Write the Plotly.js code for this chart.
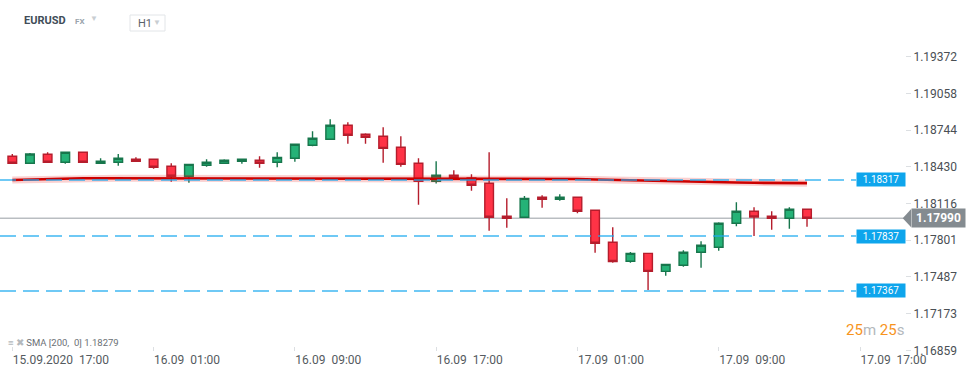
<!DOCTYPE html>
<html>
<head>
<meta charset="utf-8">
<script src="https://cdn.plot.ly/plotly-3.0.1.min.js"></script>
<style>
html,body{margin:0;padding:0;background:#fff;}
#chart{width:974px;height:375px;}
</style>
</head>
<body>
<div id="chart"></div>
<script>
// ---- data ----
const times = [
  '2020-09-15 17:00','2020-09-15 18:00','2020-09-15 19:00','2020-09-15 20:00','2020-09-15 21:00',
  '2020-09-15 22:00','2020-09-15 23:00','2020-09-16 00:00','2020-09-16 01:00','2020-09-16 02:00',
  '2020-09-16 03:00','2020-09-16 04:00','2020-09-16 05:00','2020-09-16 06:00','2020-09-16 07:00',
  '2020-09-16 08:00','2020-09-16 09:00','2020-09-16 10:00','2020-09-16 11:00','2020-09-16 12:00',
  '2020-09-16 13:00','2020-09-16 14:00','2020-09-16 15:00','2020-09-16 16:00','2020-09-16 17:00',
  '2020-09-16 18:00','2020-09-16 19:00','2020-09-16 20:00','2020-09-16 21:00','2020-09-16 22:00',
  '2020-09-16 23:00','2020-09-17 00:00','2020-09-17 01:00','2020-09-17 02:00','2020-09-17 03:00',
  '2020-09-17 04:00','2020-09-17 05:00','2020-09-17 06:00','2020-09-17 07:00','2020-09-17 08:00',
  '2020-09-17 09:00','2020-09-17 10:00','2020-09-17 11:00','2020-09-17 12:00','2020-09-17 13:00',
  '2020-09-17 14:00'
];
const openP = [
  1.18520,1.18460,1.18537,1.18469,1.18554,1.18460,1.18469,1.18494,1.18494,1.18434,
  1.18349,1.18443,1.18460,1.18477,1.18486,1.18469,1.18503,1.18614,1.18666,1.18785,
  1.18708,1.18691,1.18597,1.18460,1.18306,1.18357,1.18334,1.18289,1.18006,1.17998,
  1.18169,1.18152,1.18169,1.18058,1.17784,1.17621,1.17689,1.17535,1.17587,1.17698,
  1.17741,1.17946,1.18049,1.18006,1.17989,1.18066
];
const highP = [
  1.18540,1.18548,1.18554,1.18554,1.18554,1.18503,1.18540,1.18511,1.18494,1.18460,
  1.18451,1.18494,1.18494,1.18494,1.18520,1.18554,1.18623,1.18734,1.18837,1.18811,
  1.18717,1.18768,1.18691,1.18503,1.18477,1.18401,1.18366,1.18554,1.18160,1.18180,
  1.18186,1.18195,1.18169,1.18058,1.17912,1.17701,1.17689,1.17595,1.17715,1.17792,
  1.17955,1.18126,1.18083,1.18049,1.18083,1.18066
];
const lowP = [
  1.18460,1.18460,1.18469,1.18457,1.18469,1.18460,1.18439,1.18477,1.18414,1.18302,
  1.18294,1.18431,1.18460,1.18457,1.18422,1.18426,1.18474,1.18606,1.18666,1.18628,
  1.18628,1.18465,1.18431,1.18106,1.18287,1.18323,1.18225,1.17883,1.17909,1.17998,
  1.18080,1.18140,1.18032,1.17695,1.17609,1.17609,1.17375,1.17498,1.17575,1.17566,
  1.17712,1.17921,1.17838,1.17892,1.17900,1.17917
];
const closeP = [
  1.18460,1.18540,1.18469,1.18554,1.18469,1.18477,1.18503,1.18477,1.18426,1.18349,
  1.18451,1.18469,1.18486,1.18494,1.18460,1.18511,1.18623,1.18674,1.18785,1.18700,
  1.18683,1.18588,1.18451,1.18306,1.18357,1.18338,1.18272,1.17998,1.17989,1.18160,
  1.18152,1.18169,1.18049,1.17775,1.17619,1.17689,1.17535,1.17595,1.17698,1.17758,
  1.17946,1.18049,1.18000,1.17989,1.18066,1.17990
];
const sma200 = [
  1.18317,1.18321,1.18327,1.18332,1.18332,1.18332,1.18332,1.18332,1.18332,1.18332,
  1.18332,1.18332,1.18332,1.18332,1.18332,1.18332,1.18332,1.18332,1.18332,1.18332,
  1.18332,1.18332,1.18332,1.18332,1.18332,1.18332,1.18332,1.18332,1.18331,1.18330,
  1.18330,1.18329,1.18326,1.18321,1.18317,1.18314,1.18310,1.18307,1.18303,1.18300,
  1.18297,1.18295,1.18293,1.18291,1.18291,1.18290
];
const levels = [1.18317, 1.17837, 1.17367];
const lastPrice = 1.17990;
const smaLabel = 'SMA [200,\u00a0 0] 1.18279';
const yTicks = [1.16859,1.17173,1.17487,1.17801,1.18116,1.18430,1.18744,1.19058,1.19372];
const xTickVals = ['2020-09-15 17:00','2020-09-16 01:00','2020-09-16 09:00','2020-09-16 17:00',
                   '2020-09-17 01:00','2020-09-17 09:00','2020-09-17 17:00'];
const xTickText = ['15.09.2020\u00a0\u00a017:00','16.09\u00a0\u00a001:00','16.09\u00a0\u00a009:00',
                   '16.09\u00a0\u00a017:00','17.09\u00a0\u00a001:00','17.09\u00a0\u00a009:00',
                   '17.09\u00a0\u00a017:00'];

// ---- traces ----
const FONT = 'Roboto, "Open Sans", Arial, sans-serif';
const traces = [
  { type:'scatter', mode:'lines', x:times, y:sma200, hoverinfo:'skip',
    line:{color:'rgba(230,40,40,0.22)', width:7}, showlegend:false },
  { type:'scatter', mode:'lines', x:times, y:sma200, hoverinfo:'skip',
    line:{color:'#cc0000', width:2.6}, showlegend:false },
  { type:'candlestick', x:times, open:openP, high:highP, low:lowP, close:closeP,
    increasing:{fillcolor:'#25b277', line:{color:'#17764c', width:1.4}},
    decreasing:{fillcolor:'#ff3346', line:{color:'#b51d2c', width:1.4}},
    whiskerwidth:0, showlegend:false, hoverinfo:'skip' }
];

const shapes = [];
levels.forEach(v => {
  shapes.push({type:'line', xref:'paper', yref:'y', x0:0, x1:0.946, y0:v, y1:v,
    line:{color:'rgba(30,170,240,0.85)', width:1.5, dash:'16px,7px'}, layer:'above'});
});
shapes.push({type:'line', xref:'paper', yref:'y', x0:0, x1:1, y0:lastPrice, y1:lastPrice,
  line:{color:'#979ea3', width:1}, layer:'below'});
// arrow of the price tag
shapes.push({type:'path', xref:'paper', yref:'y', layer:'above',
  path:'M 0.9975,' + lastPrice + ' L 1.0068,' + (lastPrice+0.00078) + ' L 1.0068,' + (lastPrice-0.00078) + ' Z',
  fillcolor:'#848b90', line:{width:0}});
// H1 box
shapes.push({type:'rect', xref:'paper', yref:'paper', x0:130/905, x1:165/905,
  y0:1+(30-31)/321, y1:1+(30-15)/321, line:{color:'#e2e5e8', width:1}, fillcolor:'rgba(0,0,0,0)'});

const annotations = [];
levels.forEach(v => {
  annotations.push({xref:'paper', yref:'y', x:1.0015, y:v, xanchor:'right', yanchor:'middle',
    text:v.toFixed(5), showarrow:false, bgcolor:'#0ea5ec', borderpad:1, width:46, height:11,
    font:{family:FONT, size:10, color:'#ffffff'}});
});
annotations.push({xref:'paper', yref:'y', x:1.0066, y:lastPrice, xanchor:'left', yanchor:'middle',
  text:'<b>' + lastPrice.toFixed(5) + '</b>', showarrow:false, bgcolor:'#848b90', borderpad:2,
  width:49, height:14, font:{family:FONT, size:12, color:'#ffffff'}});
// header
annotations.push({xref:'paper', yref:'paper', x:22/905, y:1+(30-20)/321, xanchor:'left', yanchor:'middle',
  text:'<b>EURUSD</b>', showarrow:false, font:{family:FONT, size:11, color:'#414d58'}});
annotations.push({xref:'paper', yref:'paper', x:73/905, y:1+(30-21)/321, xanchor:'left', yanchor:'middle',
  text:'<b>FX</b>', showarrow:false, font:{family:FONT, size:8, color:'#9aa4ac'}});
annotations.push({xref:'paper', yref:'paper', x:88/905, y:1+(30-18)/321, xanchor:'left', yanchor:'middle',
  text:'\u25BC', showarrow:false, font:{family:FONT, size:8, color:'#c9ced2'}});
annotations.push({xref:'paper', yref:'paper', x:136/905, y:1+(30-23)/321, xanchor:'left', yanchor:'middle',
  text:'H1', showarrow:false, font:{family:FONT, size:11, color:'#5a6168'}});
annotations.push({xref:'paper', yref:'paper', x:151/905, y:1+(30-22)/321, xanchor:'left', yanchor:'middle',
  text:'\u25BC', showarrow:false, font:{family:FONT, size:8, color:'#c9ced2'}});
// SMA legend
annotations.push({xref:'paper', yref:'paper', x:6/905, y:1-(342-30)/321, xanchor:'left', yanchor:'middle',
  text:'<span style="color:#b4b9bd">\u2261</span> <span style="color:#b4b9bd">\u2716</span> ' + smaLabel,
  showarrow:false, font:{family:FONT, size:9.5, color:'#6b7075'}});
// countdown
annotations.push({xref:'paper', yref:'paper', x:906/905, y:1-(330-30)/321, xanchor:'right', yanchor:'middle',
  text:'<span style="color:#f7941d">25</span>m <span style="color:#f7941d">25</span>s',
  showarrow:false, font:{family:FONT, size:15, color:'#b3b8bc'}});

const layout = {
  width:974, height:375,
  margin:{l:0, r:69, t:30, b:24, pad:0},
  paper_bgcolor:'#ffffff', plot_bgcolor:'#ffffff',
  showlegend:false, hovermode:false,
  font:{family:FONT},
  xaxis:{type:'date', range:['2020-09-15 16:18:12','2020-09-17 19:32:54'],
    rangeslider:{visible:false}, showgrid:false, zeroline:false, showline:false,
    tickmode:'array', tickvals:xTickVals, ticktext:xTickText,
    ticks:'inside', ticklen:4, tickcolor:'#dcdfe2', tickwidth:1,
    ticklabelposition:'outside right',
    tickfont:{family:FONT, size:12, color:'#555b60'}},
  yaxis:{side:'right', range:[1.16853, 1.19601], showgrid:false, zeroline:false, showline:false,
    tickmode:'array', tickvals:yTicks, ticktext:yTicks.map(v => v.toFixed(5)),
    ticks:'outside', ticklen:5, tickcolor:'#dcdfe2', tickwidth:1,
    tickfont:{family:FONT, size:12, color:'#4a4f54'}},
  shapes:shapes, annotations:annotations
};

Plotly.newPlot('chart', traces, layout, {displayModeBar:false, staticPlot:true});
</script>
</body>
</html>
